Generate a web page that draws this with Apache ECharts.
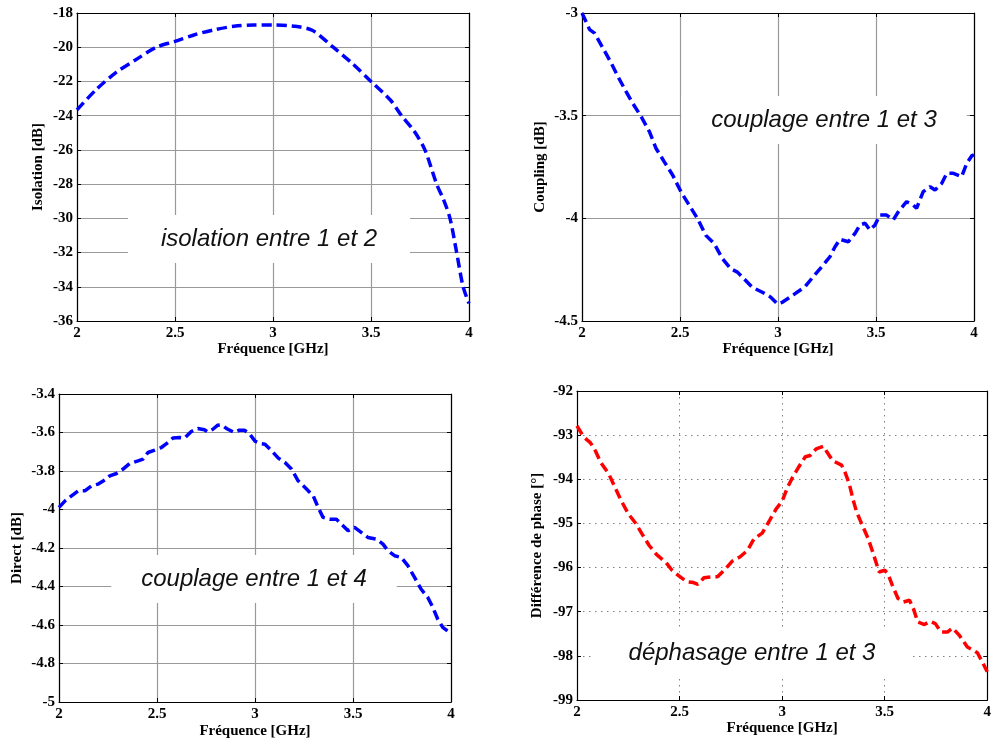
<!DOCTYPE html>
<html>
<head>
<meta charset="utf-8">
<script src="https://cdn.jsdelivr.net/npm/echarts@6/dist/echarts.min.js"></script>
<style>
html,body{margin:0;padding:0;background:#fff;}
#chart{width:994px;height:741px;}
</style>
</head>
<body>
<div id="chart"></div>
<script>
// ---- Data ----
var xTicks = [2, 2.5, 3, 3.5, 4];

// Plot 1: isolation entre 1 et 2
var freq1 = [2.0, 2.1, 2.2, 2.3, 2.405, 2.5, 2.6, 2.7, 2.8, 2.9, 3.0, 3.1, 3.2, 3.307, 3.4, 3.5, 3.6, 3.656, 3.72, 3.775, 3.835, 3.87, 3.903, 3.937, 3.97, 4.0];
var isolation = [-23.66, -22.45, -21.47, -20.73, -20.0, -19.66, -19.27, -18.98, -18.78, -18.70, -18.70, -18.76, -19.01, -20.0, -20.9, -22.0, -23.1, -24.0, -24.9, -26.0, -28.0, -28.9, -30.0, -32.0, -34.0, -34.97];

// Plot 2: couplage entre 1 et 3
var freq2 = [2.0, 2.039, 2.064, 2.107, 2.149, 2.183, 2.225, 2.259, 2.302, 2.344, 2.378, 2.42, 2.463, 2.505, 2.547, 2.59, 2.632, 2.675, 2.717, 2.759, 2.793, 2.827, 2.869, 2.92, 2.963, 2.997, 3.022,
  3.078, 3.138, 3.18, 3.231, 3.265, 3.291, 3.316, 3.359, 3.393, 3.418, 3.444, 3.469, 3.495, 3.52, 3.554, 3.588, 3.614, 3.656, 3.69, 3.707, 3.741, 3.776, 3.801, 3.835, 3.861, 3.895, 3.937, 3.963, 3.988, 4.0];
var coupling = [-3.0, -3.081, -3.098, -3.171, -3.244, -3.309, -3.383, -3.44, -3.505, -3.578, -3.66, -3.725, -3.79, -3.871, -3.936, -4.002, -4.083, -4.124, -4.197, -4.246, -4.262, -4.295, -4.336, -4.36, -4.384, -4.417, -4.409,
  -4.373, -4.333, -4.284, -4.227, -4.187, -4.138, -4.102, -4.114, -4.073, -4.032, -4.024, -4.057, -4.032, -3.984, -3.984, -4.008, -3.968, -3.919, -3.935, -3.951, -3.870, -3.846, -3.862, -3.830, -3.781, -3.781, -3.797, -3.732, -3.696, -3.69];

// Plot 3: couplage entre 1 et 4
var freq3 = [2.0, 2.031, 2.064, 2.098, 2.132, 2.166, 2.2, 2.234, 2.259, 2.293, 2.327, 2.361, 2.403, 2.429, 2.454, 2.488, 2.522, 2.556, 2.581, 2.615, 2.641, 2.675, 2.708, 2.742, 2.759, 2.785, 2.81, 2.827, 2.861, 2.895, 2.92, 2.946, 2.971, 3.0, 3.03, 3.051,
  3.085, 3.119, 3.153, 3.186, 3.22, 3.263, 3.297, 3.322, 3.347, 3.381, 3.415, 3.449, 3.475, 3.508, 3.542, 3.576, 3.619, 3.653, 3.678, 3.712, 3.746, 3.78, 3.814, 3.847, 3.881, 3.907, 3.932, 3.958, 3.992, 4.0];
var direct = [-3.989, -3.955, -3.929, -3.903, -3.903, -3.877, -3.868, -3.847, -3.825, -3.813, -3.790, -3.761, -3.747, -3.738, -3.704, -3.692, -3.678, -3.652, -3.629, -3.626, -3.629, -3.595, -3.579, -3.586, -3.597, -3.583, -3.562, -3.560, -3.583, -3.600, -3.588, -3.588, -3.605, -3.645, -3.658, -3.661,
  -3.695, -3.733, -3.756, -3.790, -3.851, -3.894, -3.929, -3.989, -4.041, -4.050, -4.050, -4.084, -4.110, -4.093, -4.119, -4.145, -4.154, -4.180, -4.214, -4.240, -4.249, -4.292, -4.353, -4.413, -4.456, -4.508, -4.569, -4.612, -4.638, -4.645];

// Plot 4: déphasage entre 1 et 3
var freq4 = [2.0, 2.032, 2.065, 2.089, 2.116, 2.155, 2.185, 2.215, 2.25, 2.285, 2.316, 2.352, 2.387, 2.435, 2.463, 2.5, 2.535, 2.568, 2.589, 2.619, 2.661, 2.685, 2.726, 2.758, 2.794, 2.831, 2.863, 2.903, 2.939, 2.971, 3.0,
  3.024, 3.048, 3.081, 3.113, 3.137, 3.166, 3.202, 3.221, 3.247, 3.29, 3.306, 3.327, 3.347, 3.363, 3.387, 3.419, 3.444, 3.473, 3.5, 3.516, 3.537, 3.565, 3.592, 3.621, 3.64, 3.661, 3.694, 3.721, 3.747, 3.774, 3.806, 3.831, 3.863, 3.903, 3.927, 3.952, 3.976, 4.0];
var phase = [-92.79, -93.04, -93.17, -93.35, -93.62, -93.88, -94.18, -94.48, -94.78, -94.99, -95.23, -95.50, -95.70, -95.89, -96.06, -96.20, -96.32, -96.34, -96.38, -96.23, -96.21, -96.21, -96.02, -95.85, -95.76, -95.61, -95.35, -95.22, -94.93, -94.67, -94.5,
  -94.21, -93.98, -93.72, -93.49, -93.46, -93.31, -93.25, -93.40, -93.58, -93.68, -93.83, -94.10, -94.48, -94.74, -95.00, -95.34, -95.68, -96.10, -96.06, -96.14, -96.40, -96.70, -96.78, -96.74, -96.93, -97.23, -97.29, -97.22, -97.27, -97.46, -97.46, -97.37, -97.53, -97.80, -97.86, -97.93, -98.14, -98.36];

var titles = ['isolation entre 1 et 2', 'couplage entre 1 et 3', 'couplage entre 1 et 4', 'déphasage entre 1 et 3'];
var yNames = ['Isolation [dB]', 'Coupling [dB]', 'Direct [dB]', 'Différence de phase [°]'];
var xName = 'Fréquence [GHz]';

function zip(xs, ys) {
  var n = Math.min(xs.length, ys.length), out = [];
  for (var i = 0; i < n; i++) out.push([xs[i], ys[i]]);
  return out;
}

// ---- Layout / style ----
var grids = [
  {left: 77, top: 13, width: 392, height: 308},
  {left: 582, top: 13, width: 392, height: 308},
  {left: 59, top: 394, width: 392, height: 308},
  {left: 577, top: 391, width: 413, height: 309}
];
var yRanges = [
  {min: -36, max: -18, interval: 2},
  {min: -4.5, max: -3, interval: 0.5},
  {min: -5, max: -3.4, interval: 0.2},
  {min: -99, max: -92, interval: 1}
];
var yNameGaps = [31, 34, 34, 32];
var xNameGaps = [21, 21, 22, 20];
var colors = ['#0000ff', '#0000ff', '#0000ff', '#ff0000'];
var seriesData = [zip(freq1, isolation), zip(freq2, coupling), zip(freq3, direct), zip(freq4, phase)];

var serifBold = {fontFamily: 'Liberation Serif', fontWeight: 'bold', fontSize: 15, color: '#000'};

function splitStyle(i) {
  if (i === 3) return {show: true, lineStyle: {color: '#808080', width: 1, type: [1.5, 4.5]}};
  return {show: true, lineStyle: {color: '#999999', width: 1.2, type: 'solid'}};
}

var xAxes = [], yAxes = [], series = [];
for (var i = 0; i < 4; i++) {
  xAxes.push({
    type: 'value', gridIndex: i, position: 'bottom', min: 2, max: 4, interval: 0.5,
    name: xName, nameLocation: 'middle', nameGap: xNameGaps[i], nameTextStyle: serifBold,
    axisLine: {show: true, onZero: false, lineStyle: {color: '#000', width: 1.2}},
    axisTick: {show: true, inside: true, length: 4, lineStyle: {color: '#000'}},
    axisLabel: Object.assign({margin: 5, showMinLabel: true, showMaxLabel: true}, serifBold),
    splitLine: splitStyle(i)
  });
  xAxes.push({
    type: 'value', gridIndex: i, position: 'top', min: 2, max: 4, interval: 0.5,
    axisLine: {show: true, onZero: false, lineStyle: {color: '#000', width: 1.2}},
    axisTick: {show: true, inside: true, length: 4, lineStyle: {color: '#000'}},
    axisLabel: {show: false}, splitLine: {show: false}
  });
  yAxes.push({
    type: 'value', gridIndex: i, position: 'left', min: yRanges[i].min, max: yRanges[i].max, interval: yRanges[i].interval,
    name: yNames[i], nameLocation: 'middle', nameGap: yNameGaps[i], nameTextStyle: serifBold,
    axisLine: {show: true, onZero: false, lineStyle: {color: '#000', width: 1.2}},
    axisTick: {show: true, inside: true, length: 4, lineStyle: {color: '#000'}},
    axisLabel: Object.assign({margin: 4, showMinLabel: true, showMaxLabel: true}, serifBold),
    splitLine: splitStyle(i)
  });
  yAxes.push({
    type: 'value', gridIndex: i, position: 'right', min: yRanges[i].min, max: yRanges[i].max, interval: yRanges[i].interval,
    axisLine: {show: true, onZero: false, lineStyle: {color: '#000', width: 1.2}},
    axisTick: {show: true, inside: true, length: 4, lineStyle: {color: '#000'}},
    axisLabel: {show: false}, splitLine: {show: false}
  });
  series.push({
    type: 'line', xAxisIndex: 2 * i, yAxisIndex: 2 * i, data: seriesData[i],
    showSymbol: false, symbol: 'none', smooth: i === 0 ? 0.3 : false,
    lineStyle: {color: colors[i], width: 3.5, type: [10, 5], cap: 'butt'},
    z: 3, animation: false
  });
}

var boxes = [
  {x: 269, y: 239, pad: [12, 33]},
  {x: 824, y: 120, pad: [12, 30]},
  {x: 254, y: 579, pad: [12, 30]},
  {x: 752, y: 653, pad: [14, 36]}
];
var graphics = [];
for (var k = 0; k < 4; k++) {
  graphics.push({
    type: 'text', x: boxes[k].x, y: boxes[k].y, z: 1,
    style: {
      text: titles[k], font: 'italic 24px "Liberation Sans"', fill: '#111',
      align: 'center', verticalAlign: 'middle', textAlign: 'center', textVerticalAlign: 'middle',
      backgroundColor: '#ffffff', padding: boxes[k].pad
    }
  });
}

var chart = echarts.init(document.getElementById('chart'), null, {renderer: 'canvas'});
chart.setOption({
  backgroundColor: '#ffffff',
  animation: false,
  grid: grids.map(function (g) { return Object.assign({show: false, containLabel: false}, g); }),
  xAxis: xAxes,
  yAxis: yAxes,
  series: series,
  graphic: graphics
});
</script>
</body>
</html>
